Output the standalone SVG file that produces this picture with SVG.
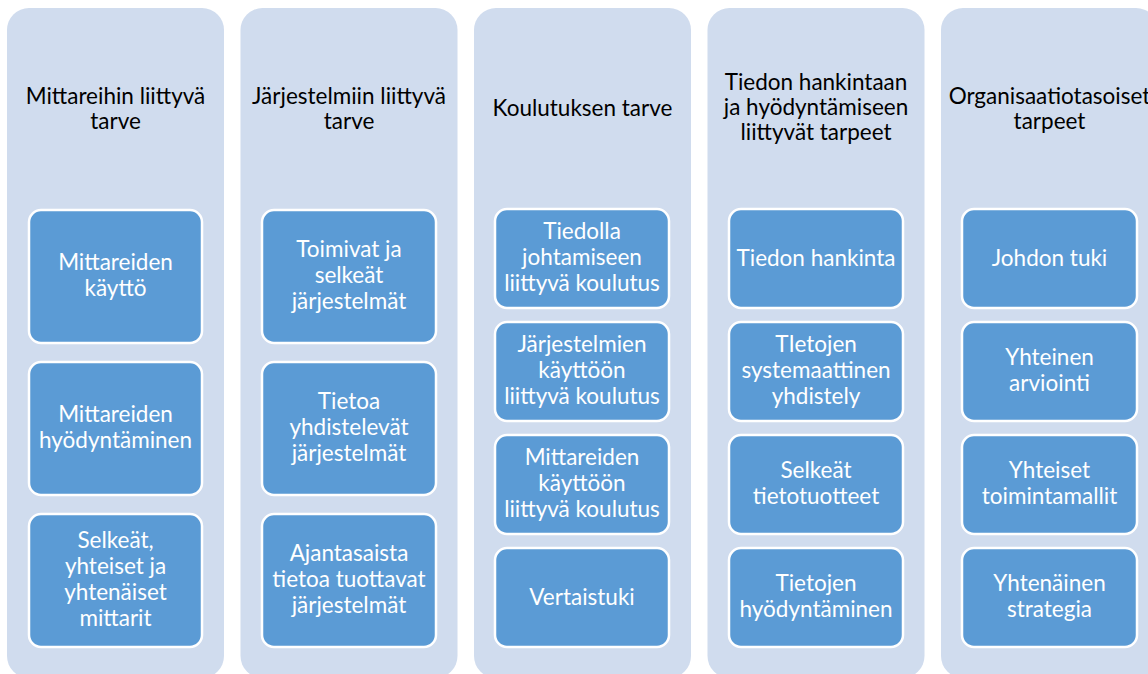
<svg xmlns="http://www.w3.org/2000/svg" width="1148" height="674" viewBox="0 0 1148 674">
<style>
.col{fill:#D0DCEE;}
.box{fill:#5B9BD5;stroke:#FFFFFF;stroke-width:2.5;}
.t{font-family:Lato,"Liberation Sans",sans-serif;font-size:22.5px;text-anchor:middle;fill:#000000;}
.w{font-family:Lato,"Liberation Sans",sans-serif;font-size:22.5px;text-anchor:middle;fill:#FFFFFF;}
</style>
<rect width="1148" height="674" fill="#FFFFFF"/>
<g id="col1">
<rect class="col" x="7" y="8" width="217" height="670" rx="22"/>
<text class="t" x="115.5" y="104">Mittareihin liittyvä</text>
<text class="t" x="115.5" y="129">tarve</text>
</g>
<g id="col2">
<rect class="col" x="240.5" y="8" width="217" height="670" rx="22"/>
<text class="t" x="349" y="104">Järjestelmiin liittyvä</text>
<text class="t" x="349" y="129">tarve</text>
</g>
<g id="col3">
<rect class="col" x="474" y="8" width="217" height="670" rx="22"/>
<text class="t" x="582.5" y="116">Koulutuksen tarve</text>
</g>
<g id="col4">
<rect class="col" x="707.5" y="8" width="217" height="670" rx="22"/>
<text class="t" x="816" y="90">Tiedon hankintaan</text>
<text class="t" x="816" y="115">ja hyödyntämiseen</text>
<text class="t" x="816" y="140">liittyvät tarpeet</text>
</g>
<g id="col5">
<rect class="col" x="941" y="8" width="217" height="670" rx="22"/>
<text class="t" x="1049.5" y="104">Organisaatiotasoiset</text>
<text class="t" x="1049.5" y="129">tarpeet</text>
</g>

<g id="n1a"><rect class="box" x="29" y="210" width="173" height="133" rx="12"/>
<text class="w" x="115.5" y="270">Mittareiden</text><text class="w" x="115.5" y="296">käyttö</text></g>
<g id="n1b"><rect class="box" x="29" y="362" width="173" height="133" rx="12"/>
<text class="w" x="115.5" y="422">Mittareiden</text><text class="w" x="115.5" y="448">hyödyntäminen</text></g>
<g id="n1c"><rect class="box" x="29" y="514" width="173" height="133" rx="12"/>
<text class="w" x="115.5" y="548">Selkeät,</text><text class="w" x="115.5" y="574">yhteiset ja</text><text class="w" x="115.5" y="600">yhtenäiset</text><text class="w" x="115.5" y="626">mittarit</text></g>

<g id="n2a"><rect class="box" x="262" y="210" width="174" height="133" rx="12"/>
<text class="w" x="349" y="257">Toimivat ja</text><text class="w" x="349" y="283">selkeät</text><text class="w" x="349" y="309">järjestelmät</text></g>
<g id="n2b"><rect class="box" x="262" y="362" width="174" height="133" rx="12"/>
<text class="w" x="349" y="409">Tietoa</text><text class="w" x="349" y="435">yhdistelevät</text><text class="w" x="349" y="461">järjestelmät</text></g>
<g id="n2c"><rect class="box" x="262" y="514" width="174" height="133" rx="12"/>
<text class="w" x="349" y="561">Ajantasaista</text><text class="w" x="349" y="587">tietoa tuottavat</text><text class="w" x="349" y="613">järjestelmät</text></g>

<g id="n3a"><rect class="box" x="495" y="209" width="174" height="99" rx="12"/>
<text class="w" x="582" y="239">Tiedolla</text><text class="w" x="582" y="265">johtamiseen</text><text class="w" x="582" y="291">liittyvä koulutus</text></g>
<g id="n3b"><rect class="box" x="495" y="322" width="174" height="99" rx="12"/>
<text class="w" x="582" y="352">Järjestelmien</text><text class="w" x="582" y="378">käyttöön</text><text class="w" x="582" y="404">liittyvä koulutus</text></g>
<g id="n3c"><rect class="box" x="495" y="435" width="174" height="99" rx="12"/>
<text class="w" x="582" y="465">Mittareiden</text><text class="w" x="582" y="491">käyttöön</text><text class="w" x="582" y="517">liittyvä koulutus</text></g>
<g id="n3d"><rect class="box" x="495" y="548" width="174" height="99" rx="12"/>
<text class="w" x="582" y="605">Vertaistuki</text></g>

<g id="n4a"><rect class="box" x="729" y="209" width="174" height="99" rx="12"/>
<text class="w" x="816" y="266">Tiedon hankinta</text></g>
<g id="n4b"><rect class="box" x="729" y="322" width="174" height="99" rx="12"/>
<text class="w" x="816" y="352">TIetojen</text><text class="w" x="816" y="378">systemaattinen</text><text class="w" x="816" y="404">yhdistely</text></g>
<g id="n4c"><rect class="box" x="729" y="435" width="174" height="99" rx="12"/>
<text class="w" x="816" y="478">Selkeät</text><text class="w" x="816" y="504">tietotuotteet</text></g>
<g id="n4d"><rect class="box" x="729" y="548" width="174" height="99" rx="12"/>
<text class="w" x="816" y="591">Tietojen</text><text class="w" x="816" y="617">hyödyntäminen</text></g>

<g id="n5a"><rect class="box" x="962" y="209" width="175" height="99" rx="12"/>
<text class="w" x="1049.5" y="266">Johdon tuki</text></g>
<g id="n5b"><rect class="box" x="962" y="322" width="175" height="99" rx="12"/>
<text class="w" x="1049.5" y="365">Yhteinen</text><text class="w" x="1049.5" y="391">arviointi</text></g>
<g id="n5c"><rect class="box" x="962" y="435" width="175" height="99" rx="12"/>
<text class="w" x="1049.5" y="478">Yhteiset</text><text class="w" x="1049.5" y="504">toimintamallit</text></g>
<g id="n5d"><rect class="box" x="962" y="548" width="175" height="99" rx="12"/>
<text class="w" x="1049.5" y="591">Yhtenäinen</text><text class="w" x="1049.5" y="617">strategia</text></g>
<g id="connectors"></g>
</svg>
